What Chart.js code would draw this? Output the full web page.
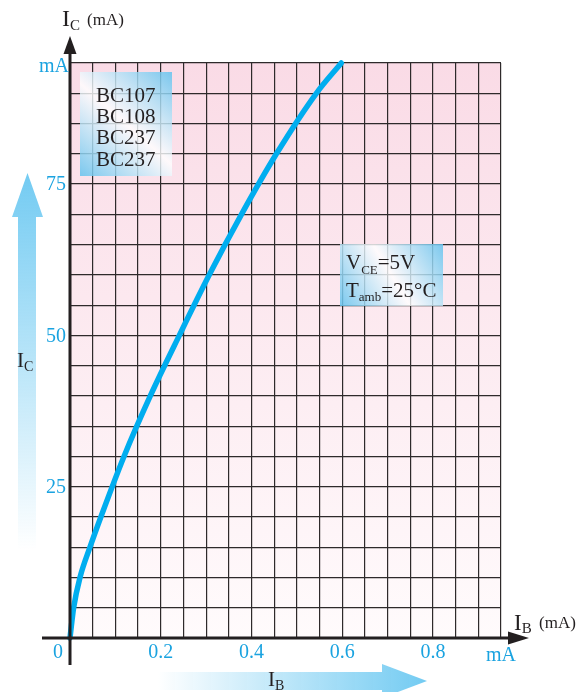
<!DOCTYPE html>
<html>
<head>
<meta charset="utf-8">
<title>IC vs IB</title>
<script src="https://cdn.jsdelivr.net/npm/chart.js@4.4.0/dist/chart.umd.min.js"></script>
<style>
  html, body { margin: 0; padding: 0; background: #fff; }
  #wrap { width: 580px; height: 692px; }
</style>
</head>
<body>
<div id="wrap"><canvas id="chart" width="580" height="692"></canvas></div>
<script>
// Collector current vs base current
const ibValues = [0, 0.003, 0.008, 0.022, 0.044, 0.068, 0.119, 0.177, 0.241, 0.307, 0.378, 0.455, 0.543, 0.598];
const icValues = [0, 2, 5, 10, 15, 20, 30, 40, 50, 60, 70, 80, 90, 95];

// Tick labels
const xTickValues = [0.2, 0.4, 0.6, 0.8];
const xTickLabels = ['0.2', '0.4', '0.6', '0.8'];
const yTickValues = [25, 50, 75];
const yTickLabels = ['25', '50', '75'];

const transistors = ['BC107', 'BC108', 'BC237', 'BC237'];

const SERIF = '"Liberation Serif", "DejaVu Serif", serif';
const BLUE_TXT = '#1aa3e0';
const INK = '#231f20';

// draws e.g. I + subscript C + rest
function drawSub(ctx, x, y, main, sub, rest, size, subSize, drop) {
    ctx.font = size + 'px ' + SERIF;
    ctx.fillText(main, x, y);
    let w = ctx.measureText(main).width;
    ctx.font = subSize + 'px ' + SERIF;
    ctx.fillText(sub, x + w, y + drop);
    w += ctx.measureText(sub).width;
    if (rest) {
        ctx.font = size + 'px ' + SERIF;
        ctx.fillText(rest, x + w, y);
    }
}

function infoBox(ctx, x0, y0, x1, y1) {
    const g = ctx.createLinearGradient(x0, y1, x1, y0);
    g.addColorStop(0, 'rgba(100,195,238,0.85)');
    g.addColorStop(0.5, 'rgba(255,255,255,0.8)');
    g.addColorStop(1, 'rgba(100,195,238,0.85)');
    ctx.fillStyle = g;
    ctx.fillRect(x0, y0, x1 - x0, y1 - y0);
}

const decorPlugin = {
    id: 'decor',
    beforeDraw(chart) {
        const ctx = chart.ctx;
        const a = chart.chartArea;
        ctx.save();
        // pink background fading to white
        const bg = ctx.createLinearGradient(0, a.top, 0, a.bottom);
        bg.addColorStop(0, '#fadbe6');
        bg.addColorStop(1, '#fffbfc');
        ctx.fillStyle = bg;
        ctx.fillRect(a.left, a.top, a.right - a.left, a.bottom - a.top);

        // big vertical arrow on the left
        const vg = ctx.createLinearGradient(0, 173, 0, 550);
        vg.addColorStop(0, 'rgba(115,203,242,1)');
        vg.addColorStop(1, 'rgba(115,203,242,0)');
        ctx.fillStyle = vg;
        ctx.beginPath();
        ctx.moveTo(27.5, 173);
        ctx.lineTo(43, 217);
        ctx.lineTo(36, 217);
        ctx.lineTo(36, 550);
        ctx.lineTo(18, 550);
        ctx.lineTo(18, 217);
        ctx.lineTo(12, 217);
        ctx.closePath();
        ctx.fill();

        // big horizontal arrow at the bottom
        const hg = ctx.createLinearGradient(157, 0, 427, 0);
        hg.addColorStop(0, 'rgba(115,203,242,0)');
        hg.addColorStop(1, 'rgba(115,203,242,1)');
        ctx.fillStyle = hg;
        ctx.beginPath();
        ctx.moveTo(157, 672);
        ctx.lineTo(382, 672);
        ctx.lineTo(382, 664);
        ctx.lineTo(427, 681);
        ctx.lineTo(382, 698);
        ctx.lineTo(382, 690);
        ctx.lineTo(157, 690);
        ctx.closePath();
        ctx.fill();

        ctx.fillStyle = INK;
        ctx.textBaseline = 'alphabetic';
        ctx.textAlign = 'left';
        drawSub(ctx, 17, 367, 'I', 'C', '', 21, 14, 4);
        drawSub(ctx, 268, 686, 'I', 'B', '', 21, 14, 4);
        ctx.restore();
    },
    afterDatasetsDraw(chart) {
        const ctx = chart.ctx;
        const xs = chart.scales.x;
        const ys = chart.scales.y;
        const ox = xs.getPixelForValue(0);
        const oy = ys.getPixelForValue(0);
        ctx.save();

        // axes with arrow heads
        ctx.strokeStyle = INK;
        ctx.fillStyle = INK;
        ctx.lineWidth = 3;
        ctx.beginPath();
        ctx.moveTo(ox, oy + 27);
        ctx.lineTo(ox, 50);
        ctx.moveTo(42, oy);
        ctx.lineTo(512, oy);
        ctx.stroke();
        ctx.beginPath();
        ctx.moveTo(ox, 36);
        ctx.lineTo(ox - 6.5, 54);
        ctx.lineTo(ox + 6.5, 54);
        ctx.closePath();
        ctx.fill();
        ctx.beginPath();
        ctx.moveTo(529, oy);
        ctx.lineTo(508, oy - 6.5);
        ctx.lineTo(508, oy + 6.5);
        ctx.closePath();
        ctx.fill();

        // tick labels
        ctx.fillStyle = BLUE_TXT;
        ctx.font = '20px ' + SERIF;
        ctx.textBaseline = 'middle';
        ctx.textAlign = 'center';
        xTickValues.forEach((v, i) => {
            ctx.fillText(xTickLabels[i], xs.getPixelForValue(v), oy + 15);
        });
        ctx.fillText('mA', xs.getPixelForValue(xs.max), oy + 18);
        ctx.fillText('0', ox - 12, oy + 15);
        ctx.textAlign = 'right';
        yTickValues.forEach((v, i) => {
            ctx.fillText(yTickLabels[i], ox - 4, ys.getPixelForValue(v) + 1);
        });
        ctx.fillText('mA', ox - 1, ys.getPixelForValue(ys.max) + 4);

        // axis titles
        ctx.fillStyle = INK;
        ctx.textAlign = 'left';
        ctx.textBaseline = 'alphabetic';
        drawSub(ctx, 62, 26, 'I', 'C', '', 24, 15, 4);
        ctx.font = '17px ' + SERIF;
        ctx.fillText('(mA)', 87, 25);
        drawSub(ctx, 514, 630, 'I', 'B', '', 23, 15, 3);
        ctx.font = '17px ' + SERIF;
        ctx.fillText('(mA)', 539, 628);

        // transistor type box
        infoBox(ctx, 80, 72, 172, 176);
        ctx.fillStyle = INK;
        ctx.font = '21px ' + SERIF;
        transistors.forEach((t, i) => {
            ctx.fillText(t, 96, 102 + i * 21.2);
        });

        // conditions box
        infoBox(ctx, 340, 244, 443, 306);
        ctx.fillStyle = INK;
        drawSub(ctx, 346, 269, 'V', 'CE', '=5V', 21, 13, 5);
        drawSub(ctx, 346, 297, 'T', 'amb', '=25°C', 21, 13, 4);

        ctx.restore();
    }
};

const ctx = document.getElementById('chart').getContext('2d');
new Chart(ctx, {
    type: 'scatter',
    data: {
        datasets: [{
            data: ibValues.map((v, i) => ({ x: v, y: icValues[i] })),
            showLine: true,
            borderColor: '#00adef',
            borderWidth: 5.5,
            borderCapStyle: 'round',
            cubicInterpolationMode: 'monotone',
            pointRadius: 0,
            clip: false
        }]
    },
    options: {
        responsive: false,
        animation: false,
        layout: { padding: { left: 70, right: 79, top: 63, bottom: 54 } },
        plugins: {
            legend: { display: false },
            tooltip: { enabled: false }
        },
        scales: {
            x: {
                type: 'linear',
                min: 0,
                max: 0.95,
                ticks: { display: false, stepSize: 0.05 },
                grid: { color: '#2e2a2b', lineWidth: 1.2, drawTicks: false },
                border: { display: false }
            },
            y: {
                type: 'linear',
                min: 0,
                max: 95,
                ticks: { display: false, stepSize: 5 },
                grid: { color: '#2e2a2b', lineWidth: 1.2, drawTicks: false },
                border: { display: false }
            }
        }
    },
    plugins: [decorPlugin]
});
</script>
</body>
</html>
